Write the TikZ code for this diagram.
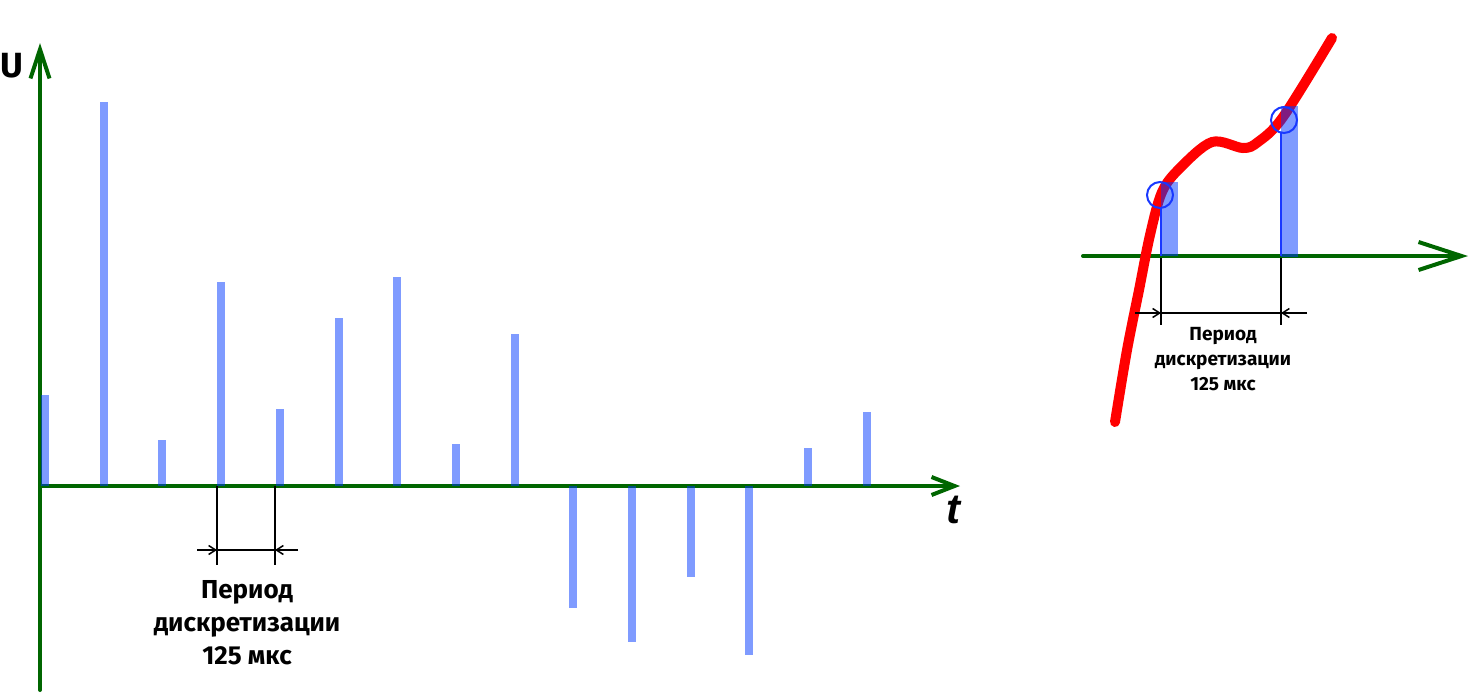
\documentclass[tikz,border=0pt]{standalone}
\usepackage{fontspec}
\setmainfont{Fira Sans}
\newfontfamily\tfont{Liberation Sans}
\usetikzlibrary{arrows.meta}
\definecolor{axisGreen}{rgb}{0.0, 0.4, 0.0}
\definecolor{sampleBlue}{rgb}{0.0, 0.22, 1.0}
\definecolor{ringBlue}{rgb}{0.1, 0.22, 1.0}

\begin{document}
\begin{tikzpicture}[x=1pt, y=-1pt,
        axis/.style={draw=axisGreen, line width=4pt, line cap=round},
        sample/.style={fill=sampleBlue, fill opacity=0.5},
        ring/.style={draw=ringBlue, line width=2pt},
        dim/.style={draw=black, line width=2pt},
        dimarrow/.style={dim, -{Straight Barb[length=7pt,width=9pt,line width=1.5pt]}},
        caption/.style={align=center, inner sep=0pt, anchor=north}]
        \useasboundingbox (0,0) rectangle (1472,694);

        % axes of the sampled signal
        \draw[axis, -{Straight Barb[length=29pt,width=19pt]}] (40,690) -- (40,43);
        \draw[axis, -{Straight Barb[length=23pt,width=18pt]}] (40,486) -- (960,486);
        \node[anchor=base west, inner sep=0pt, font=\fontsize{35}{35}\selectfont\bfseries] (ulabel) at (0,77) {U};
        \node[anchor=base west, inner sep=0pt, font=\tfont\fontsize{42}{42}\selectfont\bfseries\itshape] (tlabel) at (946,523) {t};

        % samples
        \fill[sample] (41,486) rectangle (49,395);
        \fill[sample] (100,486) rectangle (108,102);
        \fill[sample] (158,486) rectangle (166,440);
        \fill[sample] (217,486) rectangle (225,282);
        \fill[sample] (276,486) rectangle (284,409);
        \fill[sample] (335,486) rectangle (343,318);
        \fill[sample] (393,486) rectangle (401,277);
        \fill[sample] (452,486) rectangle (460,444);
        \fill[sample] (511,486) rectangle (519,334);
        \fill[sample] (569,486) rectangle (577,608);
        \fill[sample] (628,486) rectangle (636,642);
        \fill[sample] (687,486) rectangle (695,577);
        \fill[sample] (745,486) rectangle (753,655);
        \fill[sample] (804,486) rectangle (812,448);
        \fill[sample] (863,486) rectangle (871,412);

        % period
        \draw[dim] (217,486) -- (217,565);
        \draw[dim] (275,486) -- (275,565);
        \draw[dim] (217,550) -- (275,550);
        \draw[dimarrow] (197,550) -- (217,550);
        \draw[dimarrow] (298,550) -- (275,550);
        \node[caption, font=\fontsize{26}{33}\selectfont\bfseries] (periodMain) at (247,580) {Период\\дискретизации\\125 мкс};

        % zoomed signal
        \draw[axis, -{Straight Barb[length=43pt,width=28pt]}] (1083,256) -- (1468,256);
        \draw[red, line width=10pt, line cap=round] plot[smooth, tension=0.55] coordinates {
            (1115,422) (1127,350) (1139,290) (1150,235) (1162,192) (1180,168)
            (1212,142) (1243,148) (1258,142) (1283,117) (1332,38)};
        \fill[sample] (1161,256) rectangle (1178,182);
        \fill[sample] (1281,257) rectangle (1298,106);
        \draw[ring] (1161,208) -- (1161,256);
        \draw[ring] (1281,133) -- (1281,256);
        \draw[ring] (1160,195) circle (13pt);
        \draw[ring] (1284,120) circle (13pt);

        % period
        \draw[dim] (1161,258) -- (1161,325);
        \draw[dim] (1281,258) -- (1281,325);
        \draw[dim] (1161,313) -- (1281,313);
        \draw[dimarrow] (1135,313) -- (1161,313);
        \draw[dimarrow] (1307,313) -- (1281,313);
        \node[caption, font=\fontsize{19}{25}\selectfont\bfseries] (periodSmall) at (1223,327) {Период\\дискретизации\\125 мкс};

    \end{tikzpicture}
\end{document}
